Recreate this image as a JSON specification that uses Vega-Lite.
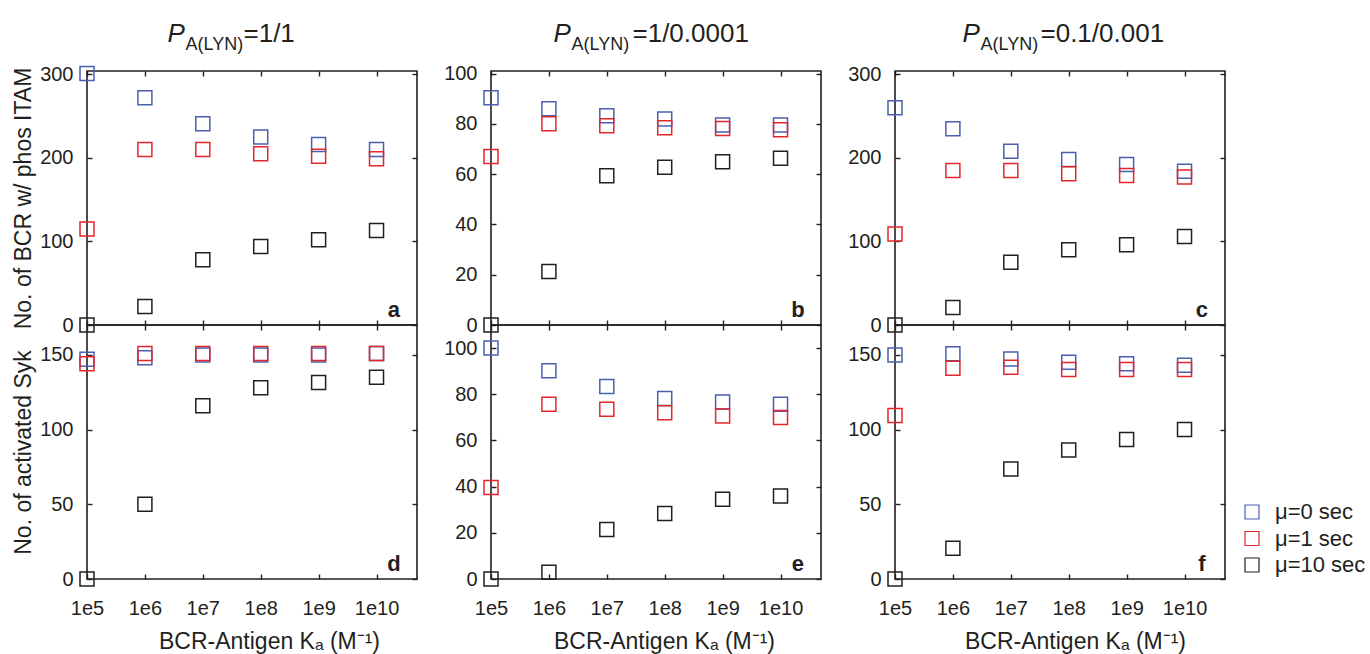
{
  "$schema": "https://vega.github.io/schema/vega-lite/v6.json",
  "padding": {"left": 11, "top": 19, "right": 0, "bottom": 0},
  "data": {"values": [
    {"p":"a","s":"μ=0 sec","K":1e5,"n":301},{"p":"a","s":"μ=0 sec","K":1e6,"n":272},{"p":"a","s":"μ=0 sec","K":1e7,"n":241},{"p":"a","s":"μ=0 sec","K":1e8,"n":225},{"p":"a","s":"μ=0 sec","K":1e9,"n":216},{"p":"a","s":"μ=0 sec","K":1e10,"n":210},
    {"p":"b","s":"μ=0 sec","K":1e5,"n":90.4},{"p":"b","s":"μ=0 sec","K":1e6,"n":86},{"p":"b","s":"μ=0 sec","K":1e7,"n":83.2},{"p":"b","s":"μ=0 sec","K":1e8,"n":81.9},{"p":"b","s":"μ=0 sec","K":1e9,"n":79.5},{"p":"b","s":"μ=0 sec","K":1e10,"n":79.5},
    {"p":"c","s":"μ=0 sec","K":1e5,"n":260},{"p":"c","s":"μ=0 sec","K":1e6,"n":235},{"p":"c","s":"μ=0 sec","K":1e7,"n":208},{"p":"c","s":"μ=0 sec","K":1e8,"n":198},{"p":"c","s":"μ=0 sec","K":1e9,"n":192},{"p":"c","s":"μ=0 sec","K":1e10,"n":184},
    {"p":"d","s":"μ=0 sec","K":1e5,"n":147},{"p":"d","s":"μ=0 sec","K":1e6,"n":148},{"p":"d","s":"μ=0 sec","K":1e7,"n":150},{"p":"d","s":"μ=0 sec","K":1e8,"n":150},{"p":"d","s":"μ=0 sec","K":1e9,"n":150},{"p":"d","s":"μ=0 sec","K":1e10,"n":151},
    {"p":"e","s":"μ=0 sec","K":1e5,"n":100},{"p":"e","s":"μ=0 sec","K":1e6,"n":90.2},{"p":"e","s":"μ=0 sec","K":1e7,"n":83.4},{"p":"e","s":"μ=0 sec","K":1e8,"n":78.2},{"p":"e","s":"μ=0 sec","K":1e9,"n":76.7},{"p":"e","s":"μ=0 sec","K":1e10,"n":75.7},
    {"p":"f","s":"μ=0 sec","K":1e5,"n":150},{"p":"f","s":"μ=0 sec","K":1e6,"n":150.7},{"p":"f","s":"μ=0 sec","K":1e7,"n":147.3},{"p":"f","s":"μ=0 sec","K":1e8,"n":145},{"p":"f","s":"μ=0 sec","K":1e9,"n":144},{"p":"f","s":"μ=0 sec","K":1e10,"n":143},
    {"p":"a","s":"μ=1 sec","K":1e5,"n":115},{"p":"a","s":"μ=1 sec","K":1e6,"n":210},{"p":"a","s":"μ=1 sec","K":1e7,"n":210},{"p":"a","s":"μ=1 sec","K":1e8,"n":205},{"p":"a","s":"μ=1 sec","K":1e9,"n":202},{"p":"a","s":"μ=1 sec","K":1e10,"n":199},
    {"p":"b","s":"μ=1 sec","K":1e5,"n":67},{"p":"b","s":"μ=1 sec","K":1e6,"n":80},{"p":"b","s":"μ=1 sec","K":1e7,"n":79.2},{"p":"b","s":"μ=1 sec","K":1e8,"n":78.4},{"p":"b","s":"μ=1 sec","K":1e9,"n":78.1},{"p":"b","s":"μ=1 sec","K":1e10,"n":77.6},
    {"p":"c","s":"μ=1 sec","K":1e5,"n":109},{"p":"c","s":"μ=1 sec","K":1e6,"n":185},{"p":"c","s":"μ=1 sec","K":1e7,"n":185},{"p":"c","s":"μ=1 sec","K":1e8,"n":181},{"p":"c","s":"μ=1 sec","K":1e9,"n":179},{"p":"c","s":"μ=1 sec","K":1e10,"n":177},
    {"p":"d","s":"μ=1 sec","K":1e5,"n":144},{"p":"d","s":"μ=1 sec","K":1e6,"n":151},{"p":"d","s":"μ=1 sec","K":1e7,"n":151},{"p":"d","s":"μ=1 sec","K":1e8,"n":151},{"p":"d","s":"μ=1 sec","K":1e9,"n":151},{"p":"d","s":"μ=1 sec","K":1e10,"n":151},
    {"p":"e","s":"μ=1 sec","K":1e5,"n":39.6},{"p":"e","s":"μ=1 sec","K":1e6,"n":75.7},{"p":"e","s":"μ=1 sec","K":1e7,"n":73.5},{"p":"e","s":"μ=1 sec","K":1e8,"n":72},{"p":"e","s":"μ=1 sec","K":1e9,"n":70.6},{"p":"e","s":"μ=1 sec","K":1e10,"n":69.9},
    {"p":"f","s":"μ=1 sec","K":1e5,"n":109.4},{"p":"f","s":"μ=1 sec","K":1e6,"n":141},{"p":"f","s":"μ=1 sec","K":1e7,"n":141.7},{"p":"f","s":"μ=1 sec","K":1e8,"n":140.2},{"p":"f","s":"μ=1 sec","K":1e9,"n":140.2},{"p":"f","s":"μ=1 sec","K":1e10,"n":140.2},
    {"p":"a","s":"μ=10 sec","K":1e5,"n":0},{"p":"a","s":"μ=10 sec","K":1e6,"n":22},{"p":"a","s":"μ=10 sec","K":1e7,"n":78},{"p":"a","s":"μ=10 sec","K":1e8,"n":94},{"p":"a","s":"μ=10 sec","K":1e9,"n":102},{"p":"a","s":"μ=10 sec","K":1e10,"n":113},
    {"p":"b","s":"μ=10 sec","K":1e5,"n":0},{"p":"b","s":"μ=10 sec","K":1e6,"n":21.3},{"p":"b","s":"μ=10 sec","K":1e7,"n":59.3},{"p":"b","s":"μ=10 sec","K":1e8,"n":62.7},{"p":"b","s":"μ=10 sec","K":1e9,"n":64.9},{"p":"b","s":"μ=10 sec","K":1e10,"n":66.3},
    {"p":"c","s":"μ=10 sec","K":1e5,"n":0},{"p":"c","s":"μ=10 sec","K":1e6,"n":21},{"p":"c","s":"μ=10 sec","K":1e7,"n":75},{"p":"c","s":"μ=10 sec","K":1e8,"n":90},{"p":"c","s":"μ=10 sec","K":1e9,"n":96},{"p":"c","s":"μ=10 sec","K":1e10,"n":106},
    {"p":"d","s":"μ=10 sec","K":1e5,"n":0},{"p":"d","s":"μ=10 sec","K":1e6,"n":50},{"p":"d","s":"μ=10 sec","K":1e7,"n":116},{"p":"d","s":"μ=10 sec","K":1e8,"n":128},{"p":"d","s":"μ=10 sec","K":1e9,"n":131.5},{"p":"d","s":"μ=10 sec","K":1e10,"n":135},
    {"p":"e","s":"μ=10 sec","K":1e5,"n":0},{"p":"e","s":"μ=10 sec","K":1e6,"n":2.9},{"p":"e","s":"μ=10 sec","K":1e7,"n":21.4},{"p":"e","s":"μ=10 sec","K":1e8,"n":28.4},{"p":"e","s":"μ=10 sec","K":1e9,"n":34.5},{"p":"e","s":"μ=10 sec","K":1e10,"n":35.9},
    {"p":"f","s":"μ=10 sec","K":1e5,"n":0},{"p":"f","s":"μ=10 sec","K":1e6,"n":20.5},{"p":"f","s":"μ=10 sec","K":1e7,"n":73.7},{"p":"f","s":"μ=10 sec","K":1e8,"n":86.4},{"p":"f","s":"μ=10 sec","K":1e9,"n":93.3},{"p":"f","s":"μ=10 sec","K":1e10,"n":100}
  ]},
  "columns": 3,
  "spacing": {"row": 0, "column": 74},
  "bounds": "flush",
  "concat": [
    {
      "width": 330, "height": 254,
      "resolve": {"axis": {"x": "independent", "y": "independent"}},
      "layer": [
        {"transform": [{"filter": "datum.p === 'a'"}], "mark": {"type": "point", "opacity": 0},
         "encoding": {
           "x": {"field": "K", "type": "quantitative", "scale": {"type": "log", "domain": [1e5, 5e10]}, "axis": {"orient": "top", "values": [1e5,1e6,1e7,1e8,1e9,1e10], "labels": false, "title": "P", "titleFontStyle": "italic", "titleFontSize": 26, "titleAngle": 0, "titleAlign": "left", "titleBaseline": "alphabetic", "titleX": 80, "titleY": -30}},
           "y": {"field": "n", "type": "quantitative", "scale": {"domain": [0, 304]}, "axis": {"orient": "right", "values": [0,100,200,300], "labels": false, "title": "A(LYN)", "titleFontSize": 18, "titleAngle": 0, "titleAlign": "left", "titleBaseline": "alphabetic", "titleX": -232, "titleY": -22}}}},
        {"transform": [{"filter": "datum.p === 'a'"}], "mark": {"type": "point", "shape": "square", "size": 196, "strokeWidth": 1.5, "filled": false, "opacity": 1},
         "encoding": {
           "x": {"field": "K", "type": "quantitative", "scale": {"type": "log", "domain": [1e5, 5e10]}, "axis": {"orient": "bottom", "values": [1e5,1e6,1e7,1e8,1e9,1e10], "labels": false, "title": "=1/1", "titleFontSize": 26, "titleAngle": 0, "titleAlign": "left", "titleBaseline": "alphabetic", "titleX": 156, "titleY": -284}},
           "y": {"field": "n", "type": "quantitative", "scale": {"domain": [0, 304]}, "axis": {"orient": "left", "values": [0,100,200,300], "title": "No. of BCR w/ phos ITAM"}},
           "color": {"field": "s", "type": "nominal", "scale": {"domain": ["μ=0 sec","μ=1 sec","μ=10 sec"], "range": ["#4a5fb0","#e4262c","#231f20"]}, "legend": {"title": null, "orient": "none", "legendX": 1154, "legendY": 430}}}},
        {"data": {"values": [{"lab": "a"}]}, "mark": {"type": "text", "fontSize": 22, "fontWeight": "bold", "baseline": "alphabetic", "dy": -8, "color": "#231f20"},
         "encoding": {"x": {"datum": 2e10, "type": "quantitative", "scale": {"type": "log", "domain": [1e5, 5e10]}, "axis": null}, "y": {"datum": 0, "type": "quantitative", "scale": {"domain": [0, 304]}, "axis": null}, "text": {"field": "lab"}}}
      ]
    },
    {
      "width": 330, "height": 254,
      "resolve": {"axis": {"x": "independent", "y": "independent"}},
      "layer": [
        {"transform": [{"filter": "datum.p === 'b'"}], "mark": {"type": "point", "opacity": 0},
         "encoding": {
           "x": {"field": "K", "type": "quantitative", "scale": {"type": "log", "domain": [1e5, 5e10]}, "axis": {"orient": "top", "values": [1e5,1e6,1e7,1e8,1e9,1e10], "labels": false, "title": "P", "titleFontStyle": "italic", "titleFontSize": 26, "titleAngle": 0, "titleAlign": "left", "titleBaseline": "alphabetic", "titleX": 62, "titleY": -30}},
           "y": {"field": "n", "type": "quantitative", "scale": {"domain": [0, 101]}, "axis": {"orient": "right", "values": [0,20,40,60,80,100], "labels": false, "title": "A(LYN)", "titleFontSize": 18, "titleAngle": 0, "titleAlign": "left", "titleBaseline": "alphabetic", "titleX": -250, "titleY": -22}}}},
        {"transform": [{"filter": "datum.p === 'b'"}], "mark": {"type": "point", "shape": "square", "size": 196, "strokeWidth": 1.5, "filled": false, "opacity": 1},
         "encoding": {
           "x": {"field": "K", "type": "quantitative", "scale": {"type": "log", "domain": [1e5, 5e10]}, "axis": {"orient": "bottom", "values": [1e5,1e6,1e7,1e8,1e9,1e10], "labels": false, "title": "=1/0.0001", "titleFontSize": 26, "titleAngle": 0, "titleAlign": "left", "titleBaseline": "alphabetic", "titleX": 141, "titleY": -284}},
           "y": {"field": "n", "type": "quantitative", "scale": {"domain": [0, 101]}, "axis": {"orient": "left", "values": [0,20,40,60,80,100], "title": null}},
           "color": {"field": "s", "type": "nominal", "scale": {"domain": ["μ=0 sec","μ=1 sec","μ=10 sec"], "range": ["#4a5fb0","#e4262c","#231f20"]}, "legend": {"title": null, "orient": "none", "legendX": 1154, "legendY": 430}}}},
        {"data": {"values": [{"lab": "b"}]}, "mark": {"type": "text", "fontSize": 22, "fontWeight": "bold", "baseline": "alphabetic", "dy": -8, "color": "#231f20"},
         "encoding": {"x": {"datum": 2e10, "type": "quantitative", "scale": {"type": "log", "domain": [1e5, 5e10]}, "axis": null}, "y": {"datum": 0, "type": "quantitative", "scale": {"domain": [0, 101]}, "axis": null}, "text": {"field": "lab"}}}
      ]
    },
    {
      "width": 330, "height": 254,
      "resolve": {"axis": {"x": "independent", "y": "independent"}},
      "layer": [
        {"transform": [{"filter": "datum.p === 'c'"}], "mark": {"type": "point", "opacity": 0},
         "encoding": {
           "x": {"field": "K", "type": "quantitative", "scale": {"type": "log", "domain": [1e5, 5e10]}, "axis": {"orient": "top", "values": [1e5,1e6,1e7,1e8,1e9,1e10], "labels": false, "title": "P", "titleFontStyle": "italic", "titleFontSize": 26, "titleAngle": 0, "titleAlign": "left", "titleBaseline": "alphabetic", "titleX": 67, "titleY": -30}},
           "y": {"field": "n", "type": "quantitative", "scale": {"domain": [0, 304]}, "axis": {"orient": "right", "values": [0,100,200,300], "labels": false, "title": "A(LYN)", "titleFontSize": 18, "titleAngle": 0, "titleAlign": "left", "titleBaseline": "alphabetic", "titleX": -245, "titleY": -22}}}},
        {"transform": [{"filter": "datum.p === 'c'"}], "mark": {"type": "point", "shape": "square", "size": 196, "strokeWidth": 1.5, "filled": false, "opacity": 1},
         "encoding": {
           "x": {"field": "K", "type": "quantitative", "scale": {"type": "log", "domain": [1e5, 5e10]}, "axis": {"orient": "bottom", "values": [1e5,1e6,1e7,1e8,1e9,1e10], "labels": false, "title": "=0.1/0.001", "titleFontSize": 26, "titleAngle": 0, "titleAlign": "left", "titleBaseline": "alphabetic", "titleX": 145, "titleY": -284}},
           "y": {"field": "n", "type": "quantitative", "scale": {"domain": [0, 304]}, "axis": {"orient": "left", "values": [0,100,200,300], "title": null}},
           "color": {"field": "s", "type": "nominal", "scale": {"domain": ["μ=0 sec","μ=1 sec","μ=10 sec"], "range": ["#4a5fb0","#e4262c","#231f20"]}, "legend": {"title": null, "orient": "none", "legendX": 1154, "legendY": 430}}}},
        {"data": {"values": [{"lab": "c"}]}, "mark": {"type": "text", "fontSize": 22, "fontWeight": "bold", "baseline": "alphabetic", "dy": -8, "color": "#231f20"},
         "encoding": {"x": {"datum": 2e10, "type": "quantitative", "scale": {"type": "log", "domain": [1e5, 5e10]}, "axis": null}, "y": {"datum": 0, "type": "quantitative", "scale": {"domain": [0, 304]}, "axis": null}, "text": {"field": "lab"}}}
      ]
    },
    {
      "width": 330, "height": 254,
      "resolve": {"axis": {"x": "independent", "y": "independent"}},
      "layer": [
        {"transform": [{"filter": "datum.p === 'd'"}], "mark": {"type": "point", "opacity": 0},
         "encoding": {
           "x": {"field": "K", "type": "quantitative", "scale": {"type": "log", "domain": [1e5, 5e10]}, "axis": {"orient": "top", "values": [1e5,1e6,1e7,1e8,1e9,1e10], "labels": false, "title": null}},
           "y": {"field": "n", "type": "quantitative", "scale": {"domain": [0, 170]}, "axis": {"orient": "right", "values": [0,50,100,150], "labels": false, "title": null}}}},
        {"transform": [{"filter": "datum.p === 'd'"}], "mark": {"type": "point", "shape": "square", "size": 196, "strokeWidth": 1.5, "filled": false, "opacity": 1},
         "encoding": {
           "x": {"field": "K", "type": "quantitative", "scale": {"type": "log", "domain": [1e5, 5e10]}, "axis": {"orient": "bottom", "values": [1e5,1e6,1e7,1e8,1e9,1e10], "labelExpr": "'1e' + round(log(datum.value)/LN10)", "title": "BCR-Antigen Kₐ (M⁻¹)", "titleX": 182}},
           "y": {"field": "n", "type": "quantitative", "scale": {"domain": [0, 170]}, "axis": {"orient": "left", "values": [0,50,100,150], "title": "No. of activated Syk"}},
           "color": {"field": "s", "type": "nominal", "scale": {"domain": ["μ=0 sec","μ=1 sec","μ=10 sec"], "range": ["#4a5fb0","#e4262c","#231f20"]}, "legend": {"title": null, "orient": "none", "legendX": 1154, "legendY": 430}}}},
        {"data": {"values": [{"lab": "d"}]}, "mark": {"type": "text", "fontSize": 22, "fontWeight": "bold", "baseline": "alphabetic", "dy": -8, "color": "#231f20"},
         "encoding": {"x": {"datum": 2e10, "type": "quantitative", "scale": {"type": "log", "domain": [1e5, 5e10]}, "axis": null}, "y": {"datum": 0, "type": "quantitative", "scale": {"domain": [0, 170]}, "axis": null}, "text": {"field": "lab"}}}
      ]
    },
    {
      "width": 330, "height": 254,
      "resolve": {"axis": {"x": "independent", "y": "independent"}},
      "layer": [
        {"transform": [{"filter": "datum.p === 'e'"}], "mark": {"type": "point", "opacity": 0},
         "encoding": {
           "x": {"field": "K", "type": "quantitative", "scale": {"type": "log", "domain": [1e5, 5e10]}, "axis": {"orient": "top", "values": [1e5,1e6,1e7,1e8,1e9,1e10], "labels": false, "title": null}},
           "y": {"field": "n", "type": "quantitative", "scale": {"domain": [0, 110]}, "axis": {"orient": "right", "values": [0,20,40,60,80,100], "labels": false, "title": null}}}},
        {"transform": [{"filter": "datum.p === 'e'"}], "mark": {"type": "point", "shape": "square", "size": 196, "strokeWidth": 1.5, "filled": false, "opacity": 1},
         "encoding": {
           "x": {"field": "K", "type": "quantitative", "scale": {"type": "log", "domain": [1e5, 5e10]}, "axis": {"orient": "bottom", "values": [1e5,1e6,1e7,1e8,1e9,1e10], "labelExpr": "'1e' + round(log(datum.value)/LN10)", "title": "BCR-Antigen Kₐ (M⁻¹)", "titleX": 173}},
           "y": {"field": "n", "type": "quantitative", "scale": {"domain": [0, 110]}, "axis": {"orient": "left", "values": [0,20,40,60,80,100], "title": null}},
           "color": {"field": "s", "type": "nominal", "scale": {"domain": ["μ=0 sec","μ=1 sec","μ=10 sec"], "range": ["#4a5fb0","#e4262c","#231f20"]}, "legend": {"title": null, "orient": "none", "legendX": 1154, "legendY": 430}}}},
        {"data": {"values": [{"lab": "e"}]}, "mark": {"type": "text", "fontSize": 22, "fontWeight": "bold", "baseline": "alphabetic", "dy": -8, "color": "#231f20"},
         "encoding": {"x": {"datum": 2e10, "type": "quantitative", "scale": {"type": "log", "domain": [1e5, 5e10]}, "axis": null}, "y": {"datum": 0, "type": "quantitative", "scale": {"domain": [0, 110]}, "axis": null}, "text": {"field": "lab"}}}
      ]
    },
    {
      "width": 330, "height": 254,
      "resolve": {"axis": {"x": "independent", "y": "independent"}},
      "layer": [
        {"transform": [{"filter": "datum.p === 'f'"}], "mark": {"type": "point", "opacity": 0},
         "encoding": {
           "x": {"field": "K", "type": "quantitative", "scale": {"type": "log", "domain": [1e5, 5e10]}, "axis": {"orient": "top", "values": [1e5,1e6,1e7,1e8,1e9,1e10], "labels": false, "title": null}},
           "y": {"field": "n", "type": "quantitative", "scale": {"domain": [0, 170]}, "axis": {"orient": "right", "values": [0,50,100,150], "labels": false, "title": null}}}},
        {"transform": [{"filter": "datum.p === 'f'"}], "mark": {"type": "point", "shape": "square", "size": 196, "strokeWidth": 1.5, "filled": false, "opacity": 1},
         "encoding": {
           "x": {"field": "K", "type": "quantitative", "scale": {"type": "log", "domain": [1e5, 5e10]}, "axis": {"orient": "bottom", "values": [1e5,1e6,1e7,1e8,1e9,1e10], "labelExpr": "'1e' + round(log(datum.value)/LN10)", "title": "BCR-Antigen Kₐ (M⁻¹)", "titleX": 180}},
           "y": {"field": "n", "type": "quantitative", "scale": {"domain": [0, 170]}, "axis": {"orient": "left", "values": [0,50,100,150], "title": null}},
           "color": {"field": "s", "type": "nominal", "scale": {"domain": ["μ=0 sec","μ=1 sec","μ=10 sec"], "range": ["#4a5fb0","#e4262c","#231f20"]}, "legend": {"title": null, "orient": "none", "legendX": 1154, "legendY": 430}}}},
        {"data": {"values": [{"lab": "f"}]}, "mark": {"type": "text", "fontSize": 22, "fontWeight": "bold", "baseline": "alphabetic", "dy": -8, "color": "#231f20"},
         "encoding": {"x": {"datum": 2e10, "type": "quantitative", "scale": {"type": "log", "domain": [1e5, 5e10]}, "axis": null}, "y": {"datum": 0, "type": "quantitative", "scale": {"domain": [0, 170]}, "axis": null}, "text": {"field": "lab"}}}
      ]
    }
  ],
  "config": {
    "font": "Liberation Sans",
    "view": {"stroke": "#231f20", "strokeWidth": 1.6},
    "axis": {"domain": false, "grid": false, "tickSize": -5, "tickWidth": 1.4, "tickColor": "#231f20", "labelFont": "Liberation Sans", "labelFontSize": 20, "labelColor": "#231f20", "labelFlush": false, "labelOverlap": false, "titleFont": "Liberation Sans", "titleFontSize": 23, "titleFontWeight": "normal", "titleColor": "#231f20"},
    "axisX": {"labelPadding": 24, "titlePadding": 12},
    "axisY": {"labelPadding": 19, "titlePadding": 4},
    "legend": {"labelFont": "Liberation Sans", "labelFontSize": 22, "labelColor": "#231f20", "symbolType": "square", "symbolSize": 196, "symbolStrokeWidth": 1.2, "labelOffset": 12, "rowPadding": 4.5, "padding": 0}
  }
}
